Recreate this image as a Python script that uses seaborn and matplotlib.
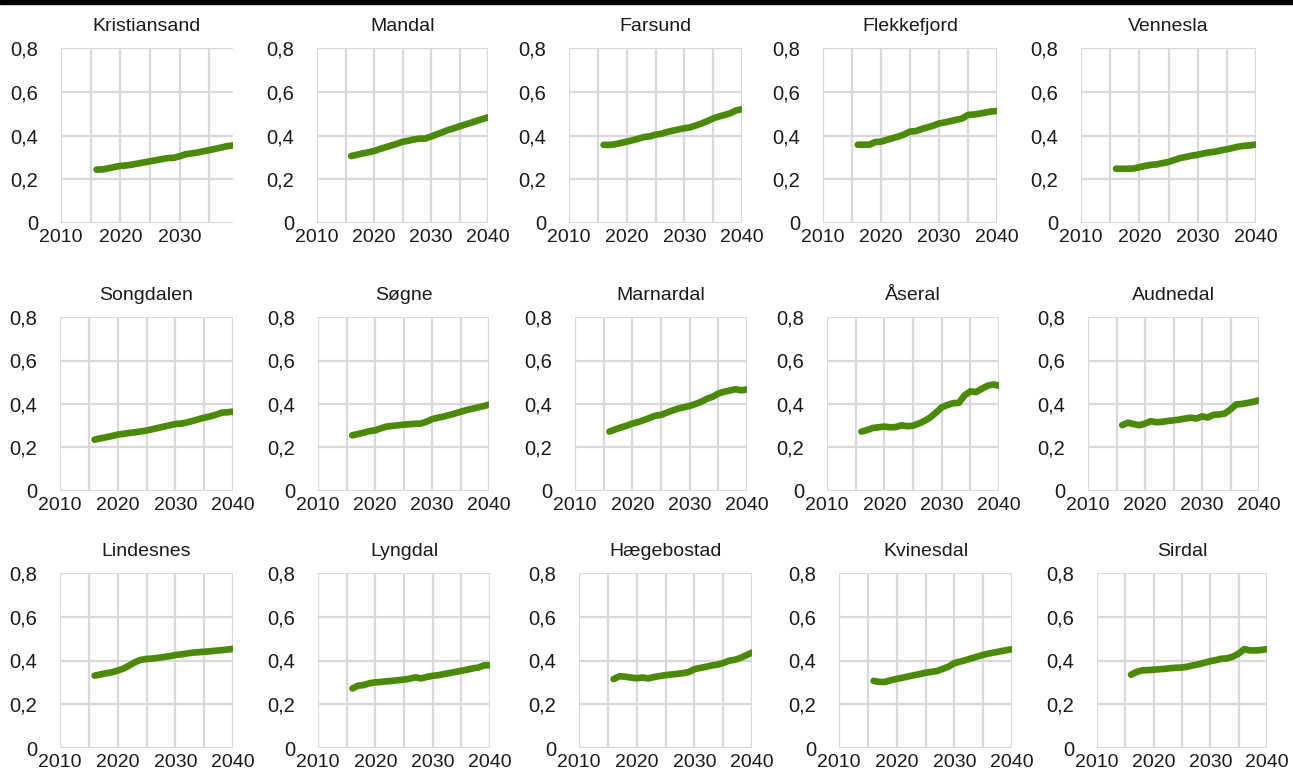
import numpy as np
import pandas as pd
import matplotlib
matplotlib.use('Agg')
import matplotlib.pyplot as plt
from matplotlib.patches import Rectangle
from matplotlib.ticker import FuncFormatter
import seaborn as sns

# share of population (projection), one series per municipality, 2016-2040
years = list(range(2016, 2041))
kristiansand_years = list(range(2016, 2040))

kristiansand = [0.244, 0.245, 0.250, 0.256, 0.261, 0.263, 0.267, 0.272, 0.277, 0.282, 0.287, 0.292,
                0.297, 0.298, 0.305, 0.314, 0.318, 0.322, 0.328, 0.333, 0.339, 0.345, 0.351, 0.355]
mandal = [0.306, 0.312, 0.318, 0.323, 0.329, 0.338, 0.346, 0.354, 0.362, 0.371, 0.376, 0.382, 0.386,
          0.386, 0.395, 0.405, 0.415, 0.425, 0.433, 0.442, 0.450, 0.458, 0.467, 0.475, 0.483]
farsund = [0.357, 0.357, 0.360, 0.366, 0.372, 0.378, 0.385, 0.393, 0.396, 0.404, 0.408, 0.416, 0.422,
           0.428, 0.433, 0.437, 0.446, 0.455, 0.466, 0.478, 0.487, 0.494, 0.502, 0.515, 0.520]
flekkefjord = [0.358, 0.358, 0.358, 0.370, 0.372, 0.380, 0.388, 0.395, 0.405, 0.418, 0.420, 0.430, 0.437,
               0.445, 0.455, 0.460, 0.466, 0.472, 0.478, 0.494, 0.496, 0.500, 0.505, 0.510, 0.512]
vennesla = [0.248, 0.248, 0.248, 0.249, 0.255, 0.261, 0.266, 0.268, 0.274, 0.279, 0.288, 0.297, 0.302,
            0.308, 0.312, 0.318, 0.323, 0.326, 0.332, 0.337, 0.343, 0.349, 0.353, 0.355, 0.359]
songdalen = [0.236, 0.242, 0.247, 0.253, 0.259, 0.263, 0.267, 0.270, 0.274, 0.278, 0.284, 0.290, 0.296,
             0.302, 0.308, 0.310, 0.315, 0.322, 0.330, 0.337, 0.343, 0.350, 0.360, 0.362, 0.365]
sogne = [0.256, 0.262, 0.268, 0.275, 0.279, 0.288, 0.296, 0.299, 0.302, 0.305, 0.307, 0.309, 0.310,
         0.318, 0.330, 0.337, 0.342, 0.349, 0.356, 0.364, 0.372, 0.378, 0.384, 0.390, 0.397]
marnardal = [0.273, 0.283, 0.292, 0.300, 0.310, 0.317, 0.326, 0.336, 0.346, 0.350, 0.360, 0.370, 0.379,
             0.385, 0.391, 0.400, 0.410, 0.424, 0.433, 0.448, 0.456, 0.462, 0.468, 0.463, 0.467]
aseral = [0.273, 0.280, 0.290, 0.293, 0.296, 0.293, 0.294, 0.302, 0.298, 0.300, 0.310, 0.322, 0.338,
          0.360, 0.385, 0.395, 0.404, 0.405, 0.440, 0.458, 0.455, 0.470, 0.484, 0.490, 0.484]
audnedal = [0.303, 0.314, 0.308, 0.302, 0.310, 0.321, 0.316, 0.318, 0.322, 0.325, 0.328, 0.333, 0.337,
            0.333, 0.343, 0.338, 0.350, 0.352, 0.356, 0.375, 0.398, 0.400, 0.405, 0.410, 0.417]
lindesnes = [0.331, 0.336, 0.342, 0.346, 0.354, 0.363, 0.377, 0.392, 0.403, 0.407, 0.409, 0.412, 0.416,
             0.420, 0.425, 0.428, 0.432, 0.436, 0.438, 0.440, 0.442, 0.445, 0.447, 0.450, 0.453]
lyngdal = [0.272, 0.285, 0.288, 0.296, 0.300, 0.302, 0.305, 0.307, 0.310, 0.313, 0.317, 0.323, 0.318,
           0.325, 0.330, 0.333, 0.338, 0.343, 0.348, 0.353, 0.358, 0.364, 0.368, 0.378, 0.378]
haegebostad = [0.315, 0.328, 0.326, 0.322, 0.319, 0.322, 0.318, 0.324, 0.329, 0.333, 0.336, 0.339, 0.342,
               0.347, 0.360, 0.366, 0.371, 0.377, 0.381, 0.388, 0.399, 0.403, 0.412, 0.424, 0.436]
kvinesdal = [0.307, 0.302, 0.302, 0.310, 0.316, 0.321, 0.327, 0.333, 0.338, 0.344, 0.348, 0.352, 0.362,
             0.372, 0.388, 0.395, 0.402, 0.410, 0.418, 0.426, 0.432, 0.437, 0.442, 0.447, 0.452]
sirdal = [0.335, 0.348, 0.355, 0.356, 0.358, 0.360, 0.362, 0.365, 0.367, 0.368, 0.372, 0.378, 0.383,
          0.390, 0.397, 0.402, 0.408, 0.410, 0.418, 0.432, 0.452, 0.446, 0.446, 0.448, 0.452]

names = ['Kristiansand', 'Mandal', 'Farsund', 'Flekkefjord', 'Vennesla',
         'Songdalen', 'Søgne', 'Marnardal', 'Åseral', 'Audnedal',
         'Lindesnes', 'Lyngdal', 'Hægebostad', 'Kvinesdal', 'Sirdal']
series = [kristiansand, mandal, farsund, flekkefjord, vennesla,
          songdalen, sogne, marnardal, aseral, audnedal,
          lindesnes, lyngdal, haegebostad, kvinesdal, sirdal]

sns.set_theme(style='whitegrid')
plt.rcParams['font.family'] = ['Liberation Sans', 'DejaVu Sans']

W, H = 1293, 778
fig = plt.figure(figsize=(W / 100, H / 100), dpi=100)

# plot-area pixel boxes (left, right) per panel, (top, bottom) per row
col_px = [[(61, 233), (317, 488), (569, 742), (823, 997), (1081, 1256)],
          [(60, 233), (318, 489), (575, 747), (827, 999), (1088, 1259)],
          [(60, 233), (318, 490), (579, 752), (839, 1012), (1097, 1267)]]
row_px = [(48, 223), (317, 491), (573, 748)]

green = '#4a8a08'
grid_c = '#d9d9d9'

for i, (name, vals) in enumerate(zip(names, series)):
    r, c = divmod(i, 5)
    x0, x1 = col_px[r][c]
    y0, y1 = row_px[r]
    ax = fig.add_axes([x0 / W, 1 - y1 / H, (x1 - x0) / W, (y1 - y0) / H])
    yrs = kristiansand_years if name == 'Kristiansand' else years
    df = pd.DataFrame({'year': yrs, 'value': vals})
    sns.lineplot(data=df, x='year', y='value', ax=ax, color=green, linewidth=4.8,
                 solid_capstyle='round', solid_joinstyle='round')
    xmax = 2039 if name == 'Kristiansand' else 2040
    ax.set_xlim(2010, xmax)
    ax.set_ylim(0, 0.8)
    ax.set_xticks(range(2010, xmax + 1, 5))
    ax.set_xticklabels([str(t) if t % 10 == 0 else '' for t in range(2010, xmax + 1, 5)])
    ax.set_yticks([0, 0.2, 0.4, 0.6, 0.8])
    ax.yaxis.set_major_formatter(FuncFormatter(lambda v, p: ('%g' % round(v, 1)).replace('.', ',')))
    ax.grid(True, color=grid_c, linewidth=1.6)
    for s in ax.spines.values():
        s.set_visible(False)
    ax.set_facecolor('white')
    ax.tick_params(axis='y', length=0, labelsize=14.5, colors='#1a1a1a', pad=16.5)
    ax.tick_params(axis='x', length=0, labelsize=14, colors='#1a1a1a', pad=4.5)
    ax.set_xlabel('')
    ax.set_ylabel('')
    ax.set_title(name, fontsize=14, color='#1a1a1a', pad=12)

# black rule along the top edge
fig.add_artist(Rectangle((0, 1 - 4 / H), 1, 4 / H, transform=fig.transFigure,
                         color='black', zorder=10))

fig.savefig('out.png', dpi=100, facecolor='white')
